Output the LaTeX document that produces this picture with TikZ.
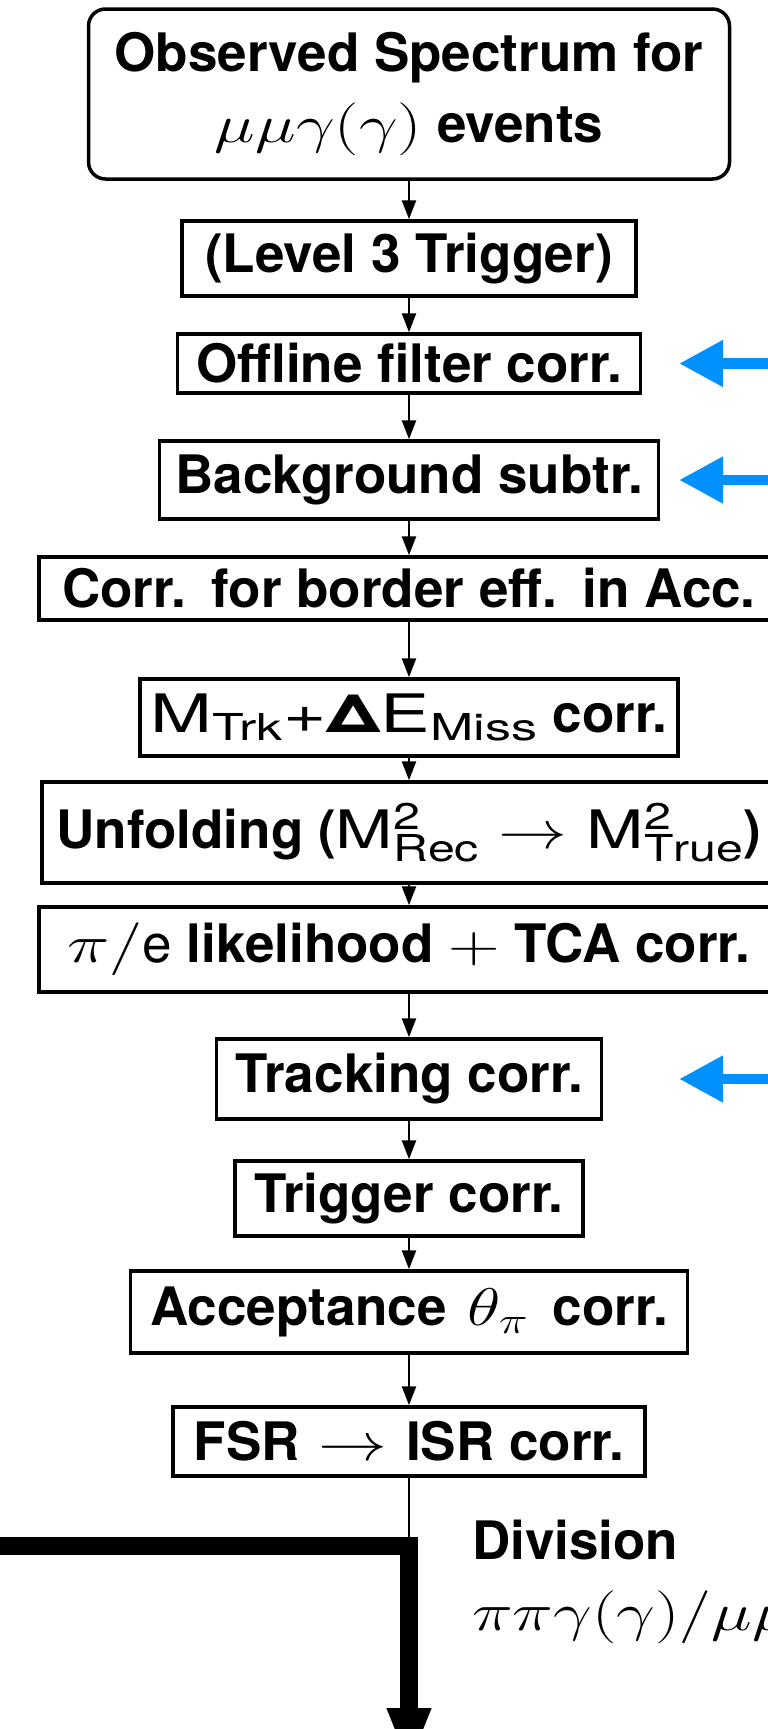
\RequirePackage{fix-cm}
\documentclass[tikz,border=0pt]{standalone}
\usepackage{graphicx}
\usepackage{fontspec}
\setmainfont{TeX Gyre Heros}
\setsansfont{TeX Gyre Heros}
\DeclareMathSizes{53}{53}{37.1}{26.5}
\newcommand{\stretchmath}[2][1.3]{\scalebox{#1}[1]{#2}}
\usetikzlibrary{arrows.meta}
\definecolor{arrowblue}{RGB}{0,145,255}
\tikzset{
  box/.style={draw, line width=3.5pt, inner sep=0pt, align=center,
    font=\fontsize{53}{71}\selectfont\bfseries},
  flow/.style={line width=2.5pt, -{Triangle[length=19pt,width=14pt]}},
  plain/.style={line width=2.5pt},
  bluearrow/.style={draw=arrowblue, line width=10.7pt, -{Triangle[length=44pt,width=44pt]}, arrowblue},
  bigarrow/.style={line width=18pt, -{Triangle[length=60pt,width=40pt]}},
  lbl/.style={inner sep=0pt, anchor=base west, font=\fontsize{53}{71}\selectfont\bfseries}
}
\begin{document}
\begin{tikzpicture}[x=1pt,y=-1pt]
\useasboundingbox (0,0) rectangle (768,1729);
\clip (0,0) rectangle (768,1729);
\node[box, rounded corners=17pt, minimum width=641pt, minimum height=170pt] (obs) at (409,94)
  {Observed Spectrum for\\\stretchmath{$\mu\mu\gamma(\gamma)$} events};
\node[box, minimum width=454pt, minimum height=75pt] (l3) at (409,258.5) {(Level 3 Trigger)};
\node[box, minimum width=463pt, minimum height=59pt] (off) at (409,363.5) {Offline filter corr.};
\node[box, minimum width=499pt, minimum height=78pt] (bkg) at (409,480) {Background subtr.};
\node[box, minimum width=740pt, minimum height=63pt] (bord) at (409,588.5) {Corr.\hspace{6pt} for border eff.\hspace{6pt} in Acc.};
\node[box, minimum width=538pt, minimum height=77pt] (mtrk) at (409,717.5)
  {\stretchmath[1.4]{{\mdseries M\textsubscript{Trk}+}Δ{\mdseries E\textsubscript{Miss}}} corr.};
\node[box, minimum width=734pt, minimum height=101pt] (unf) at (409,832.5)
  {Unfolding (\stretchmath{$\mathsf{M}^{\mathsf{2}}_{\mathsf{Rec}}\rightarrow\mathsf{M}^{\mathsf{2}}_{\mathsf{True}}$})};
\node[box, minimum width=740pt, minimum height=85pt] (pie) at (409,949.5)
  {\stretchmath[1.35]{$\pi/$}$\mathsf{e}$ likelihood \stretchmath[1.35]{$+$} TCA corr.};
\node[box, minimum width=385pt, minimum height=80pt] (trk) at (409,1079) {Tracking corr.};
\node[box, minimum width=348pt, minimum height=75pt] (trg) at (409,1198.5) {Trigger corr.};
\node[box, minimum width=557pt, minimum height=82pt] (acc) at (409,1312) {Acceptance\hspace{6pt} \stretchmath{$\theta_\pi$}\hspace{10pt} corr.};
\node[box, minimum width=472pt, minimum height=69pt] (fsr) at (409,1441.5) {FSR\hspace{4pt} \stretchmath{$\rightarrow$}\hspace{4pt} ISR corr.};

\draw[flow] (obs) -- (l3);
\draw[flow] (l3) -- (off);
\draw[flow] (off) -- (bkg);
\draw[flow] (bkg) -- (bord);
\draw[flow] (bord) -- (mtrk);
\draw[flow] (mtrk) -- (unf);
\draw[flow] (unf) -- (pie);
\draw[flow] (pie) -- (trk);
\draw[flow] (trk) -- (trg);
\draw[flow] (trg) -- (acc);
\draw[flow] (acc) -- (fsr);

\coordinate (join) at (409,1537);
\coordinate (corner) at (409,1546);
\coordinate (leftend) at (-20,1546);
\coordinate (downend) at (409,1768);
\draw[plain] (fsr.south) -- (join);
\draw[bigarrow] (leftend) -- (corner) -- (downend);

\coordinate (s1) at (800,363.5); \coordinate (t1) at (679,363.5);
\coordinate (s2) at (800,480);   \coordinate (t2) at (679,480);
\coordinate (s3) at (800,1079);  \coordinate (t3) at (679,1079);
\draw[bluearrow] (s1) -- (t1);
\draw[bluearrow] (s2) -- (t2);
\draw[bluearrow] (s3) -- (t3);

\node[lbl] (div) at (472,1559) {Division};
\node[lbl] (ratio) at (472,1630) {\stretchmath{$\pi\pi\gamma(\gamma)/\mu\mu\gamma(\gamma)$}};
\end{tikzpicture}
\end{document}
